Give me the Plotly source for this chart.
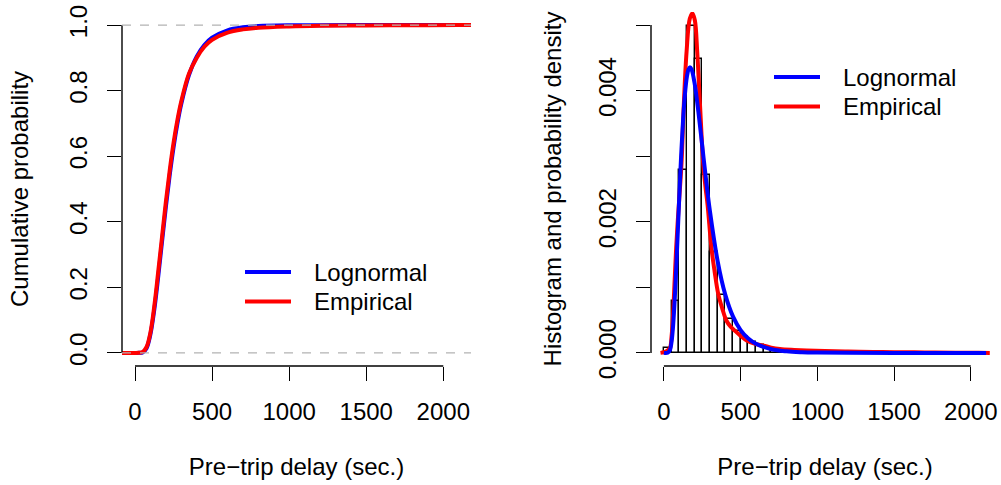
import plotly.graph_objects as go

# ---------------- data ----------------
# Left panel: cumulative distribution of pre-trip delay (seconds)
cdf_x = [-84, 0, 25, 50, 75, 100, 125, 150, 175, 200, 225, 250, 275, 300,
         350, 400, 450, 500, 600, 700, 800, 1000, 1200, 1500, 1800, 2100, 2180]
cdf_lognormal = [0, 0, 0.0001, 0.0012, 0.0144, 0.0565, 0.131, 0.2296, 0.3375,
                 0.4439, 0.5416, 0.627, 0.6993, 0.7592, 0.8473, 0.9037, 0.9392,
                 0.9615, 0.9841, 0.9932, 0.9970, 0.9993, 0.9998, 1.0, 1.0, 1.0, 1.0]
cdf_empirical = [0, 0, 0.0005, 0.003, 0.018, 0.062, 0.142, 0.245, 0.352, 0.46,
                 0.556, 0.64, 0.71, 0.767, 0.852, 0.900, 0.934, 0.955, 0.977,
                 0.987, 0.992, 0.996, 0.998, 0.999, 0.9995, 1.0, 1.0]

# Right panel: histogram (bin width 50 s) and density estimates
bin_width = 50
bin_left = list(range(0, 2100, bin_width))
hist_density = [0.00008, 0.00079, 0.00279, 0.00498, 0.00448, 0.00271, 0.00154,
                0.00088, 0.00052, 0.00034, 0.00024, 0.00017, 0.00012, 0.00008,
                0.00005, 0.00003, 0.00002, 0.000018, 0.000016, 0.000014,
                0.000012, 0.000011, 0.00001, 0.000009, 0.000008, 0.000008,
                0.000007, 0.000007, 0.000006, 0.000006, 0.000005, 0.000005,
                0.000004, 0.000004, 0.000004, 0.000003, 0.000003, 0.000003,
                0.000002, 0.000002, 0.000002, 0.000001]

pdf_lognormal_x = [0, 25, 40, 50, 60, 75, 90, 100, 112, 125, 137, 150, 160, 170,
                   180, 200, 225, 250, 275, 300, 350, 400, 450, 500, 550, 600,
                   700, 800, 900, 1000, 1200, 1500, 2100]
pdf_lognormal = [0, 0.0000015, 0.000046, 0.000169, 0.000414, 0.001017, 0.001813,
                 0.002367, 0.002986, 0.003549, 0.003941, 0.004213, 0.004323,
                 0.004358, 0.004327, 0.004115, 0.003674, 0.003155, 0.002637,
                 0.002163, 0.001405, 0.000889, 0.000557, 0.000348, 0.000218,
                 0.000138, 0.0000563, 0.0000239, 0.0000105, 0.0000048,
                 0.000001, 0, 0]

pdf_empirical_x = [-22, 0, 20, 40, 50, 60, 70, 80, 90, 100, 115, 130, 148, 169,
                   186, 202, 217, 235, 256, 270, 285, 310, 330, 354, 380, 408,
                   435, 462, 500, 540, 590, 650, 700, 756, 850, 930, 1050, 1200,
                   1364, 1500, 1700, 1900, 2050, 2124]
pdf_empirical = [0, 0.00001, 0.00003, 0.00008, 0.00025, 0.0006, 0.0011, 0.0016,
                 0.0020, 0.00235, 0.0029, 0.0038, 0.0046, 0.0051, 0.00518,
                 0.00507, 0.0046, 0.0038, 0.0029, 0.00255, 0.00225, 0.0016,
                 0.00125, 0.0009, 0.00068, 0.00049, 0.0004, 0.00034, 0.00026,
                 0.00019, 0.00014, 0.00011, 0.00008, 0.00006, 0.000045,
                 0.000036, 0.000028, 0.00002, 0.000015, 0.00001, 0.000007,
                 0.000004, 0.000002, 0]

x_ticks = [0, 500, 1000, 1500, 2000]
cdf_ticks = [0, 0.2, 0.4, 0.6, 0.8, 1.0]
cdf_tick_text = ["0.0", "0.2", "0.4", "0.6", "0.8", "1.0"]
pdf_ticks = [0, 0.001, 0.002, 0.003, 0.004, 0.005]
pdf_tick_text = ["0.000", "", "0.002", "", "0.004", ""]

series_names = ["Lognormal", "Empirical"]
series_colors = ["#0000FF", "#FF0000"]

# ---------------- figure ----------------
W, H = 1001, 485
FONT = "Liberation Sans, Arial, Helvetica, sans-serif"
FS = 24

fig = go.Figure()

# left panel curves
fig.add_trace(go.Scatter(x=cdf_x, y=cdf_lognormal, mode="lines", line_shape="spline",
                         line=dict(color=series_colors[0], width=4),
                         xaxis="x", yaxis="y", showlegend=False))
fig.add_trace(go.Scatter(x=cdf_x, y=cdf_empirical, mode="lines", line_shape="spline",
                         line=dict(color=series_colors[1], width=4),
                         xaxis="x", yaxis="y", showlegend=False))

# right panel histogram + densities
fig.add_trace(go.Bar(x=[b + bin_width / 2 for b in bin_left], y=hist_density,
                     width=bin_width,
                     marker=dict(color="rgba(255,255,255,0)",
                                 line=dict(color="black", width=1.4)),
                     xaxis="x2", yaxis="y2", showlegend=False))
fig.add_trace(go.Scatter(x=pdf_empirical_x, y=pdf_empirical, mode="lines",
                         line_shape="spline",
                         line=dict(color=series_colors[1], width=4),
                         xaxis="x2", yaxis="y2", showlegend=False))
fig.add_trace(go.Scatter(x=pdf_lognormal_x, y=pdf_lognormal, mode="lines",
                         line_shape="spline",
                         line=dict(color=series_colors[0], width=4),
                         xaxis="x2", yaxis="y2", showlegend=False))

ydom = [119 / H, 473 / H]
axis_common = dict(showgrid=False, zeroline=False, showline=False, automargin=False,
                   ticks="outside", ticklen=14, tickwidth=1.4, tickcolor="black",
                   ticklabelstandoff=10,
                   tickfont=dict(family=FONT, size=FS, color="black"))

title_font = dict(family=FONT, size=FS, color="black")

fig.update_layout(
    width=W, height=H,
    margin=dict(l=0, r=0, t=0, b=0),
    paper_bgcolor="white", plot_bgcolor="white",
    bargap=0,
    xaxis=dict(domain=[122 / W, 471 / W], range=[-84.3, 2179.7], anchor="y",
               tickvals=x_ticks, ticktext=[str(v) for v in x_ticks],
               title=dict(text="Pre−trip delay (sec.)", font=title_font, standoff=34),
               **axis_common),
    yaxis=dict(domain=ydom, range=[-0.04, 1.04], anchor="x",
               tickvals=cdf_ticks, ticktext=cdf_tick_text, tickangle=-90,
               title=dict(text="Cumulative probability", font=title_font, standoff=30),
               **axis_common),
    xaxis2=dict(domain=[651 / W, 999 / W], range=[-84, 2184], anchor="y2",
                tickvals=x_ticks, ticktext=[str(v) for v in x_ticks],
                title=dict(text="Pre−trip delay (sec.)", font=title_font, standoff=34),
                **axis_common),
    yaxis2=dict(domain=ydom, range=[-0.0002, 0.0052], anchor="x2",
                tickvals=pdf_ticks, ticktext=pdf_tick_text, tickangle=-90,
                title=dict(text="Histogram and probability density", font=title_font,
                           standoff=26),
                **axis_common),
)

shapes = []
# axis lines spanning the first to last tick
for xa, ya, yticks in (("x", "y", cdf_ticks), ("x2", "y2", pdf_ticks)):
    shapes.append(dict(type="line", xref=xa, yref=f"{ya} domain",
                       x0=x_ticks[0], x1=x_ticks[-1], y0=0, y1=0,
                       line=dict(color="black", width=1.4)))
    shapes.append(dict(type="line", xref=f"{xa} domain", yref=ya,
                       x0=0, x1=0, y0=yticks[0], y1=yticks[-1],
                       line=dict(color="black", width=1.4)))
# reference levels of the cumulative plot
for lvl in (0, 1):
    shapes.append(dict(type="line", xref="x domain", yref="y", x0=0, x1=1,
                       y0=lvl, y1=lvl, layer="above",
                       line=dict(color="#B3B3B3", width=1.4, dash="dash")))

# legends
annotations = []
legend_pos = [  # (line x0, line x1, text x, first row y, row step) in pixels
    (245, 291, 312, 272, 29.5),
    (774, 820, 841, 77, 29.5),
]
for lx0, lx1, tx, ry, step in legend_pos:
    for i, (name, col) in enumerate(zip(series_names, series_colors)):
        yy = 1 - (ry + i * step) / H
        shapes.append(dict(type="line", xref="paper", yref="paper",
                           x0=lx0 / W, x1=lx1 / W, y0=yy, y1=yy,
                           line=dict(color=col, width=4)))
        annotations.append(dict(xref="paper", yref="paper", x=tx / W, y=yy,
                                xanchor="left", yanchor="middle", showarrow=False,
                                text=name, font=dict(family=FONT, size=FS,
                                                     color="black")))

fig.update_layout(shapes=shapes, annotations=annotations)

fig.write_html("out.html")
